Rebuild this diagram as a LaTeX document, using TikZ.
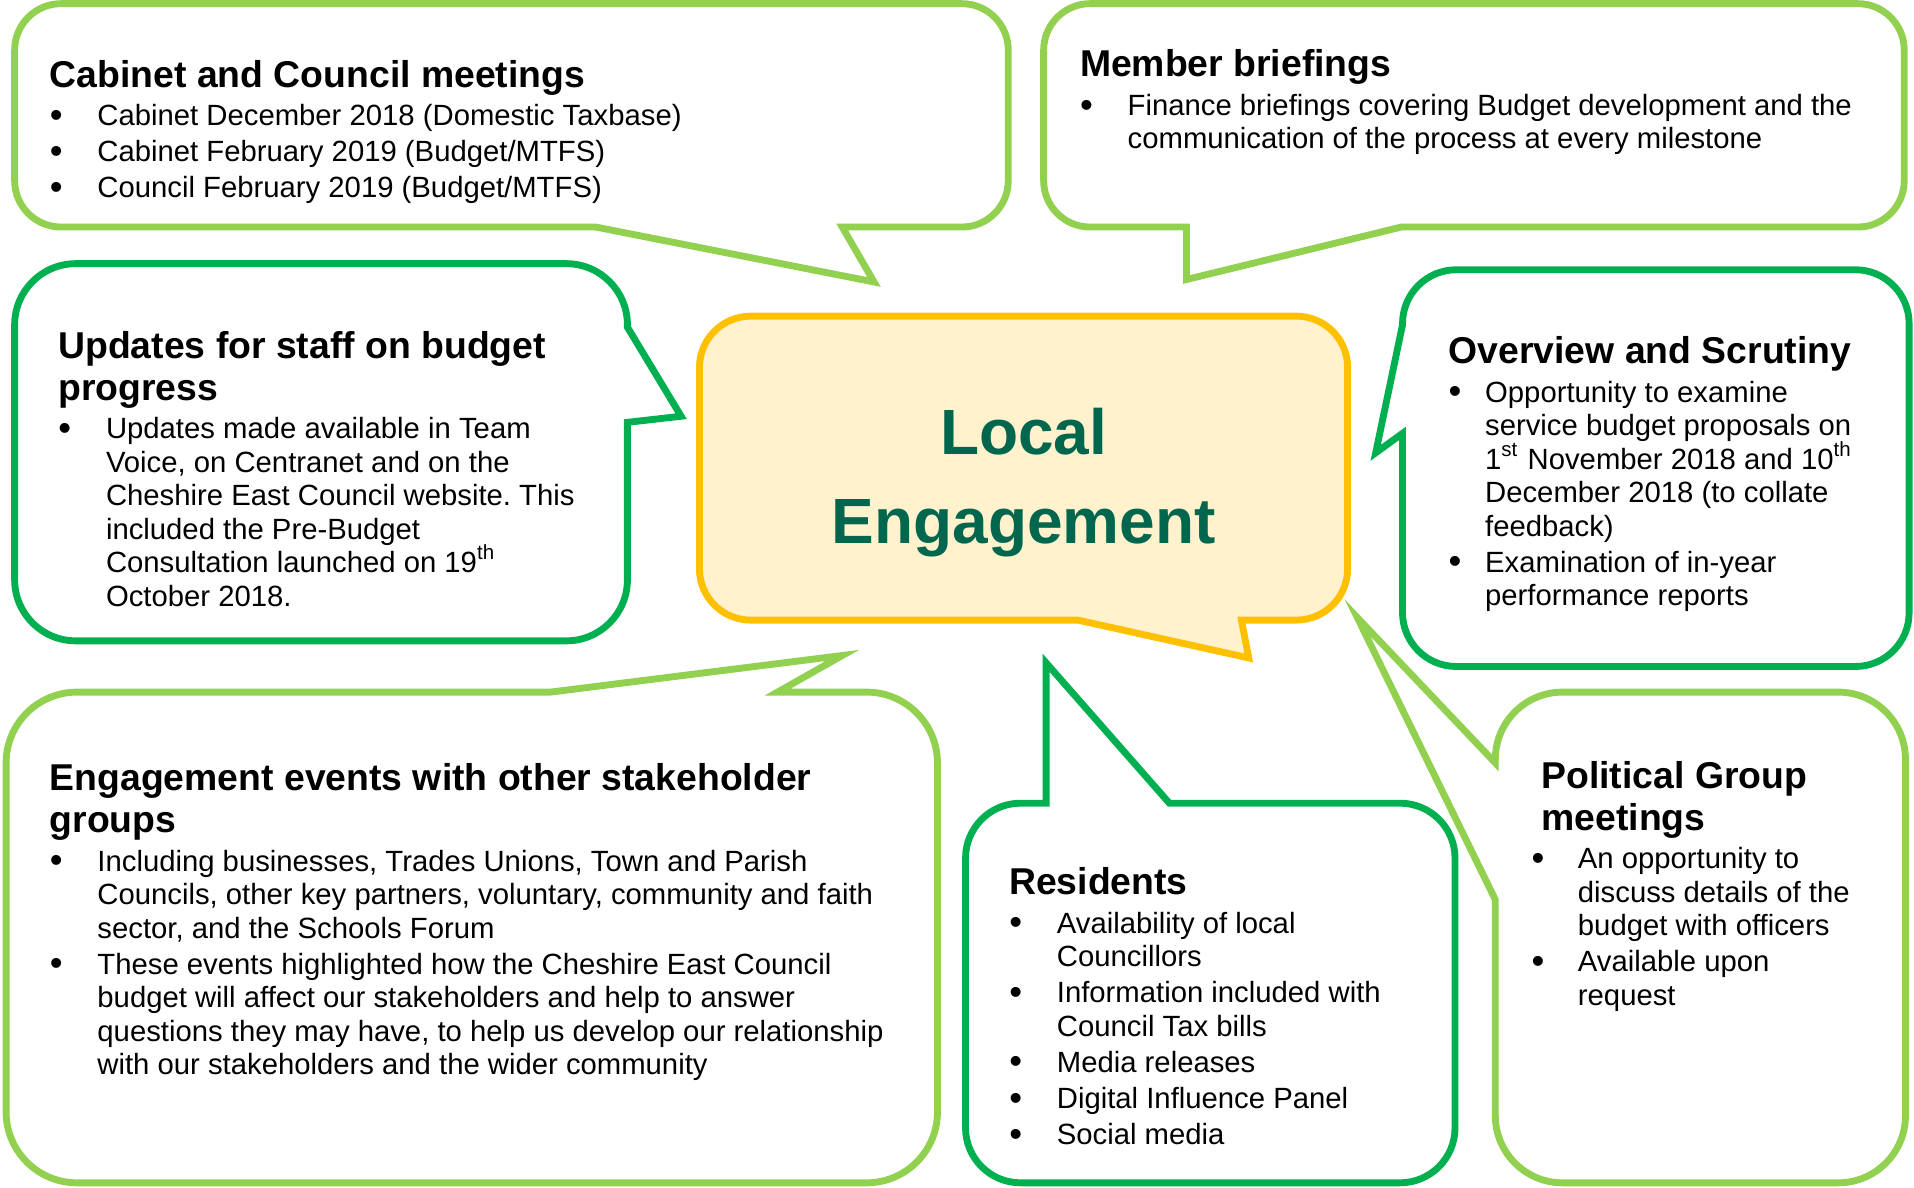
\documentclass[tikz,border=0pt]{standalone}
\usepackage{fontspec}
\setmainfont{Liberation Sans}
\definecolor{lightgreen}{RGB}{146,208,80}
\definecolor{darkgreen}{RGB}{0,176,80}
\definecolor{gold}{RGB}{255,192,0}
\definecolor{cream}{RGB}{255,242,204}
\definecolor{deepgreen}{RGB}{0,102,78}
\newlength{\bulind}\setlength{\bulind}{11.1pt}
\newlength{\bulofs}\setlength{\bulofs}{0pt}
\newcommand{\hd}[1]{{\fontsize{8.7}{9.7}\selectfont\bfseries #1\par}\vspace{0.55pt}}
\newcommand{\itm}{\par\vspace{0.6pt}\leftskip=\bulind\noindent\hspace*{-\bulind}%
    \makebox[\bulind][l]{\hspace*{\bulofs}\raisebox{-0.4pt}{\fontsize{8.5}{7.8}\selectfont\textbullet}}}
\newcommand{\sups}[1]{\smash{\textsuperscript{#1}}}

\begin{document}
\begin{tikzpicture}[x=0.01cm, y=-0.01cm, line width=1.6pt,
    lg/.style={draw=lightgreen, fill=white},
    dg/.style={draw=darkgreen, fill=white},
    txt/.style={anchor=base west, inner sep=0pt, text width=7.5cm, align=left,
        execute at begin node={\fontsize{6.82}{7.8}\selectfont\frenchspacing\spaceskip=0pt\xspaceskip=0pt\rightskip=0pt plus 1fil\relax}}]
    \useasboundingbox (0,0) rectangle (1568,973);

    \draw[lg, rounded corners=0.38cm] (12,100) -- (12,3) -- (826,3) -- (826,186) [sharp corners] -- (690,186) -- (716,231) -- (488,186) [rounded corners=0.38cm] -- (12,186) -- cycle;
    \draw[lg, rounded corners=0.38cm] (855,100) -- (855,3) -- (1560,3) -- (1560,186) [sharp corners] -- (1148,186) -- (972,229) -- (972,186) [rounded corners=0.38cm] -- (855,186) -- cycle;
    \draw[dg, rounded corners=0.5cm] (12,400) -- (12,216) -- (514,216) [sharp corners] -- (514,268) -- (558,341) -- (514,346) [rounded corners=0.5cm] -- (514,525) -- (12,525) -- cycle;
    \draw[draw=gold, fill=cream, rounded corners=0.42cm] (573,380) -- (573,259) -- (1104,259) -- (1104,508) [sharp corners] -- (1017,508) -- (1023,539) -- (883,508) [rounded corners=0.42cm] -- (573,508) -- cycle;
    \draw[lg, rounded corners=0.55cm] (1400,969) -- (1225,969) [sharp corners] -- (1225,737) -- (1112,506) -- (1225,625) [rounded corners=0.55cm] -- (1225,567) -- (1561,567) -- (1561,969) -- cycle;
    \draw[dg, rounded corners=0.44cm] (1350,546) -- (1149,546) [sharp corners] -- (1149,355) -- (1127,371) -- (1149,266) [rounded corners=0.44cm] -- (1149,221) -- (1564,221) -- (1564,546) -- cycle;
    \draw[dg, rounded corners=0.45cm] (791,800) -- (791,658) [sharp corners] -- (857,658) -- (857,543) -- (958,658) [rounded corners=0.45cm] -- (1192,658) -- (1192,969) -- (791,969) -- cycle;
    \draw[lg, rounded corners=0.58cm] (5,800) -- (5,567) [sharp corners] -- (451,567) -- (690,537) -- (637,567) [rounded corners=0.58cm] -- (768,567) -- (768,969) -- (5,969) -- cycle;

    \node[anchor=base, text width=5cm, align=center, inner sep=0pt, text=deepgreen,
        execute at begin node={\fontsize{14.9}{20.8}\selectfont\bfseries}] (loc) at (838.6,372) {Local\\Engagement};

    \node[txt] (cab) at (38,71.5) {\hd{Cabinet and Council meetings}%
        \itm Cabinet December 2018 (Domestic Taxbase)%
        \itm Cabinet February 2019 (Budget/MTFS)%
        \itm Council February 2019 (Budget/MTFS)\par};
    \node[txt] (mem) at (882,63) {\hd{Member briefings}%
        \itm Finance briefings covering Budget development and the\newline communication of the process at every milestone\par};
    \node[txt] (upd) at (45,294) {\hd{Updates for staff on budget\newline progress}%
        \itm Updates made available in Team\newline Voice, on Centranet and on the\newline Cheshire East Council website. This\newline included the Pre-Budget\newline Consultation launched on 19\sups{th}\newline October 2018.\par};
    \node[txt] (ovr) at (1184,298) {\setlength{\bulind}{8.5pt}\hd{Overview and Scrutiny}%
        \itm Opportunity to examine\newline service budget proposals on\newline 1\sups{st} November 2018 and 10\sups{th}\newline December 2018 (to collate\newline feedback)%
        \itm Examination of in-year\newline performance reports\par};
    \node[txt] (pol) at (1260,646) {\setlength{\bulind}{8.5pt}\setlength{\bulofs}{-2.3pt}\hd{Political Group\newline meetings}%
        \itm An opportunity to\newline discuss details of the\newline budget with officers%
        \itm Available upon\newline request\par};
    \node[txt] (res) at (824,733) {\hd{Residents}%
        \itm Availability of local\newline Councillors%
        \itm Information included with\newline Council Tax bills%
        \itm Media releases%
        \itm Digital Influence Panel%
        \itm Social media\par};
    \node[txt] (eng) at (38,648) {\hd{Engagement events with other stakeholder\newline groups}%
        \itm Including businesses, Trades Unions, Town and Parish\newline Councils, other key partners, voluntary, community and faith\newline sector, and the Schools Forum%
        \itm These events highlighted how the Cheshire East Council\newline budget will affect our stakeholders and help to answer\newline questions they may have, to help us develop our relationship\newline with our stakeholders and the wider community\par};
\end{tikzpicture}
\end{document}
